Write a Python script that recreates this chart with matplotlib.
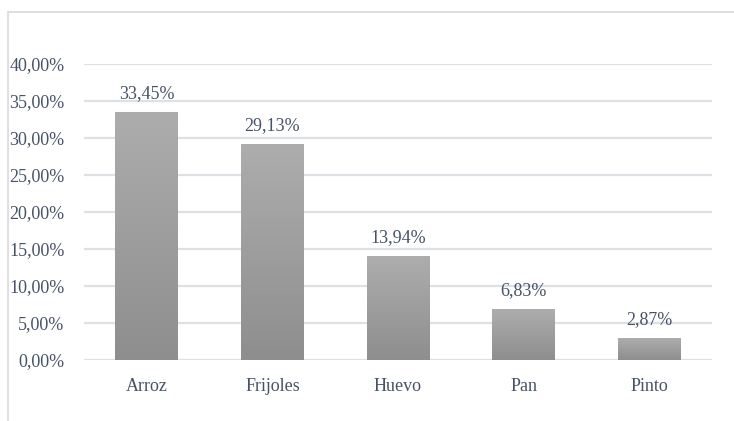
import matplotlib
matplotlib.use("Agg")
import matplotlib.pyplot as plt
import numpy as np
from matplotlib.colors import LinearSegmentedColormap
from matplotlib.patches import Rectangle

categories = ["Arroz", "Frijoles", "Huevo", "Pan", "Pinto"]
values = [33.45, 29.13, 13.94, 6.83, 2.87]
yticks = [0, 5, 10, 15, 20, 25, 30, 35, 40]

plt.rcParams['font.family'] = ['Liberation Serif', 'DejaVu Serif']
text_color = '#465266'
grid_color = '#dde1e6'

fig = plt.figure(figsize=(7.34, 4.21), dpi=100)
fig.patch.set_facecolor('white')
# outer chart frame
fig.patches.append(Rectangle((8/734, -0.05), 1.2, 1 - 12/421 + 0.05,
                             transform=fig.transFigure, fill=False,
                             edgecolor='#d9d9d9', linewidth=1.2))

ax = fig.add_axes([84/734, (421-360)/421, 628/734, 296/421])
x = np.arange(len(categories))
bars = ax.bar(x, values, width=0.5, color='none', edgecolor='none', zorder=3)

cmap = LinearSegmentedColormap.from_list('g', ['#8e8e8e', '#adadad'])
grad = np.linspace(0, 1, 256).reshape(-1, 1)
for b in bars:
    bx, by = b.get_x(), b.get_y()
    bw, bh = b.get_width(), b.get_height()
    ax.imshow(grad, extent=(bx, bx + bw, by, by + bh), origin='lower',
              cmap=cmap, aspect='auto', zorder=3)

for xi, v in zip(x, values):
    ax.annotate(f"{v:.2f}%".replace('.', ','), (xi, v), xytext=(0, 7.5),
                textcoords='offset points', ha='center', va='bottom',
                fontsize=13, color=text_color, zorder=4)

ax.set_xlim(-0.5, len(categories) - 0.5)
ax.set_ylim(0, 40)
ax.set_yticks(yticks)
ax.set_yticklabels([f"{t:.2f}%".replace('.', ',') for t in yticks])
ax.set_xticks(x)
ax.set_xticklabels(categories)
ax.tick_params(axis='both', length=0, labelsize=13, colors=text_color)
ax.tick_params(axis='y', pad=14)
ax.tick_params(axis='x', pad=13)
ax.yaxis.grid(True, color=grid_color, linewidth=1.6, zorder=0)
ax.set_axisbelow(True)
for s in ax.spines.values():
    s.set_visible(False)

fig.savefig("out.png", dpi=100, facecolor='white')
